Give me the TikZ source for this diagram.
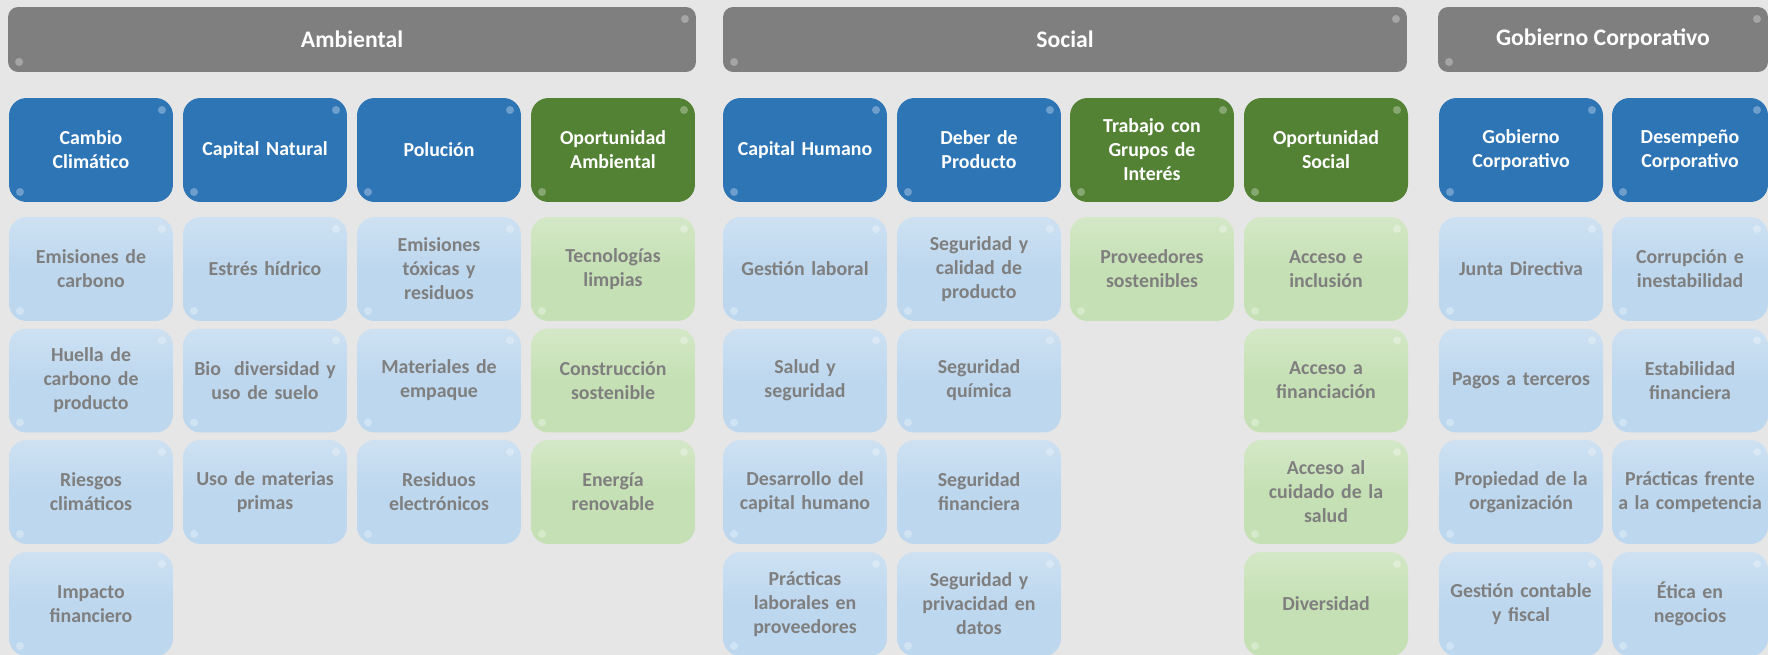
\documentclass[tikz,border=0pt]{standalone}
\usepackage{fontspec}
\setmainfont{Carlito}
\definecolor{bgcol}{HTML}{E7E6E6}
\definecolor{headcol}{HTML}{7F7F7F}
\definecolor{bluecol}{HTML}{2E75B6}
\definecolor{greencol}{HTML}{548235}
\definecolor{lightblue}{HTML}{BDD7EE}
\definecolor{lightgreen}{HTML}{C5E0B4}
\definecolor{txtgray}{HTML}{7F7F7F}

\begin{document}
\begin{tikzpicture}[
    x=0.02cm, y=-0.02cm,
    every node/.style={font=\fontsize{11.3}{13.7}\selectfont\bfseries, align=center},
    gloss/.style={path picture={
        \fill[white, opacity=0.3] ([xshift=-0.22cm, yshift=-0.24cm]path picture bounding box.north east) circle (0.08cm);
        \fill[white, opacity=0.3] ([xshift=0.22cm, yshift=0.2cm]path picture bounding box.south west) circle (0.08cm);
    }},
    header/.style={rectangle, rounded corners=0.2cm, fill=headcol, text=white, minimum height=1.3cm, inner sep=0pt,
        font=\fontsize{13.5}{16}\selectfont\bfseries, gloss},
    theme/.style={rectangle, rounded corners=0.35cm, fill=bluecol, text=white, minimum width=3.28cm, minimum height=2.08cm, text width=3.05cm, inner sep=0pt, gloss},
    optheme/.style={theme, fill=greencol},
    issue/.style={rectangle, rounded corners=0.35cm, top color=lightblue!75!white, bottom color=lightblue, middle color=lightblue,
        text=txtgray, minimum width=3.28cm, minimum height=2.08cm, text width=3.05cm, inner sep=0pt, gloss},
    opissue/.style={issue, top color=lightgreen!75!white, bottom color=lightgreen, middle color=lightgreen}
]

\useasboundingbox (0, 0) rectangle (1768, 655);
\clip (0, 0) rectangle (1768, 655);
\fill[bgcol] (0, 0) rectangle (1768, 655);

% Ambiental
\begin{scope}
    \node[header, minimum width=13.76cm] (amb) at (352, 39.5) {Ambiental};

    \node[theme] (cambio) at (91, 150) {Cambio\\Climático};
    \node[theme] (capnat) at (265, 150) {Capital Natural};
    \node[theme] (polucion) at (439, 150) {Polución};
    \node[optheme] (oportamb) at (613, 150) {Oportunidad\\Ambiental};

    \node[issue] (emis) at (91, 269) {Emisiones de\\carbono};
    \node[issue] (huella) at (91, 380.5) {Huella de\\carbono de\\producto};
    \node[issue] (riesgos) at (91, 492) {Riesgos\\climáticos};
    \node[issue] (impacto) at (91, 604) {Impacto\\financiero};

    \node[issue] (estres) at (265, 269) {Estrés hídrico};
    \node[issue] (biodiv) at (265, 380.5) {Bio\ \ diversidad y\\uso de suelo};
    \node[issue] (materias) at (265, 492) {Uso de materias\\primas};

    \node[issue] (toxicas) at (439, 269) {Emisiones\\tóxicas y\\residuos};
    \node[issue] (empaque) at (439, 380.5) {Materiales de\\empaque};
    \node[issue] (electro) at (439, 492) {Residuos\\electrónicos};

    \node[opissue] (tecno) at (613, 269) {Tecnologías\\limpias};
    \node[opissue] (construc) at (613, 380.5) {Construcción\\sostenible};
    \node[opissue] (energia) at (613, 492) {Energía\\renovable};
\end{scope}

% Social
\begin{scope}
    \node[header, minimum width=13.68cm] (soc) at (1065, 39.5) {Social};

    \node[theme] (caphum) at (805, 150) {Capital Humano};
    \node[theme] (deber) at (979, 150) {Deber de\\Producto};
    \node[optheme] (trabajo) at (1152, 150) {Trabajo con\\Grupos de\\Interés};
    \node[optheme] (oportsoc) at (1326, 150) {Oportunidad\\Social};

    \node[issue] (laboral) at (805, 269) {Gestión laboral};
    \node[issue] (salud) at (805, 380.5) {Salud y\\seguridad};
    \node[issue] (desarrollo) at (805, 492) {Desarrollo del\\capital humano};
    \node[issue] (practicas) at (805, 604) {Prácticas\\laborales en\\proveedores};

    \node[issue] (segcal) at (979, 269) {Seguridad y\\calidad de\\producto};
    \node[issue] (quimica) at (979, 380.5) {Seguridad\\química};
    \node[issue] (segfin) at (979, 492) {Seguridad\\financiera};
    \node[issue] (datos) at (979, 604) {Seguridad y\\privacidad en\\datos};

    \node[opissue] (proveed) at (1152, 269) {Proveedores\\sostenibles};

    \node[opissue] (acceso) at (1326, 269) {Acceso e\\inclusión};
    \node[opissue] (financ) at (1326, 380.5) {Acceso a\\financiación};
    \node[opissue] (cuidado) at (1326, 492) {Acceso al\\cuidado de la\\salud};
    \node[opissue] (diversidad) at (1326, 604) {Diversidad};
\end{scope}

% Gobierno Corporativo
\begin{scope}
    \node[header, minimum width=6.6cm] (gob) at (1603, 39.5) {Gobierno Corporativo};

    \node[theme] (gobcorp) at (1521, 150) {Gobierno\\Corporativo};
    \node[theme, minimum width=3.12cm] (desemp) at (1690, 150) {Desempeño\\Corporativo};

    \node[issue] (junta) at (1521, 269) {Junta Directiva};
    \node[issue] (pagos) at (1521, 380.5) {Pagos a terceros};
    \node[issue] (propiedad) at (1521, 492) {Propiedad de la\\organización};
    \node[issue] (contable) at (1521, 604) {Gestión contable\\y fiscal};

    \node[issue, minimum width=3.12cm] (corrupcion) at (1690, 269) {Corrupción e\\inestabilidad};
    \node[issue, minimum width=3.12cm] (estab) at (1690, 380.5) {Estabilidad\\financiera};
    \node[issue, minimum width=3.12cm] (competencia) at (1690, 492) {Prácticas frente\\a la competencia};
    \node[issue, minimum width=3.12cm] (etica) at (1690, 604) {Ética en\\negocios};
\end{scope}

\end{tikzpicture}
\end{document}
